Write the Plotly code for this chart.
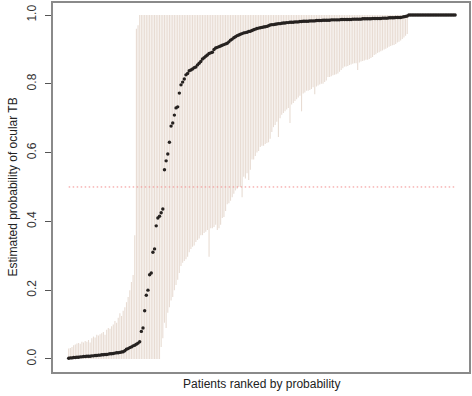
import plotly.graph_objects as go

# Estimated probability per patient (ranked)
estimate = [
    0.002, 0.003, 0.003, 0.004, 0.004, 0.005, 0.005, 0.006, 0.006, 0.007,
    0.007, 0.008, 0.008, 0.008, 0.009, 0.009, 0.010, 0.010, 0.011, 0.011,
    0.012, 0.012, 0.013, 0.013, 0.014, 0.015, 0.015, 0.016, 0.017, 0.018,
    0.018, 0.019, 0.020, 0.021, 0.024, 0.028, 0.030, 0.033, 0.035, 0.038,
    0.040, 0.043, 0.046,
    0.050, 0.080, 0.090, 0.140, 0.185, 0.200, 0.245, 0.250, 0.310, 0.320,
    0.387, 0.410, 0.415, 0.425, 0.436, 0.550, 0.576, 0.596, 0.630, 0.677,
    0.686, 0.709, 0.730, 0.733, 0.773, 0.797, 0.805, 0.814, 0.826,
    0.830, 0.838, 0.840, 0.843, 0.847, 0.849, 0.855, 0.860, 0.865, 0.872,
    0.876, 0.880, 0.884, 0.888, 0.890, 0.892, 0.900, 0.904, 0.906, 0.908,
    0.910, 0.912, 0.914, 0.916, 0.918, 0.922, 0.927, 0.930, 0.934, 0.937,
    0.940, 0.942, 0.944, 0.946, 0.948, 0.949, 0.950, 0.952, 0.953,
    0.955, 0.957, 0.959, 0.961, 0.962, 0.963, 0.964, 0.965, 0.966, 0.967,
    0.969, 0.971, 0.972, 0.972, 0.973, 0.974, 0.975, 0.975, 0.976, 0.977,
    0.977, 0.978, 0.978, 0.979, 0.979, 0.979, 0.980, 0.980, 0.980, 0.981,
    0.981, 0.982, 0.982, 0.982, 0.982, 0.983, 0.983, 0.983, 0.983, 0.984,
    0.984, 0.984,
    0.984, 0.985, 0.985, 0.985, 0.985, 0.985, 0.986, 0.986, 0.986, 0.986,
    0.986, 0.986, 0.987, 0.987, 0.987, 0.987, 0.987, 0.987, 0.987,
    0.988, 0.988, 0.988, 0.988, 0.988, 0.988, 0.989, 0.989, 0.989, 0.989,
    0.989, 0.989, 0.990, 0.990, 0.990, 0.990, 0.990, 0.990,
    0.991, 0.991, 0.991, 0.991, 0.992, 0.992, 0.992, 0.992, 0.993, 0.993,
    0.993, 0.993, 0.994, 0.995, 0.996, 0.997,
    1.000, 1.000, 1.000, 1.000, 1.000, 1.000, 1.000, 1.000, 1.000, 1.000,
    1.000, 1.000, 1.000, 1.000, 1.000, 1.000, 1.000, 1.000, 1.000, 1.000,
    1.000, 1.000, 1.000, 1.000, 1.000, 1.000, 1.000, 1.000, 1.000,
]

# Lower bound of interval
lower = [
    0.000, 0.000, 0.000, 0.000, 0.000, 0.000, 0.000, 0.000, 0.000, 0.000,
    0.000, 0.000, 0.000, 0.000, 0.000, 0.000, 0.000, 0.000, 0.000, 0.000,
    0.000, 0.000, 0.000, 0.000, 0.000, 0.000, 0.000, 0.000, 0.000, 0.000,
    0.000, 0.000, 0.000, 0.000, 0.000, 0.000, 0.000, 0.000, 0.000, 0.000,
    0.000, 0.000, 0.000, 0.000, 0.000, 0.000, 0.000, 0.000, 0.000, 0.000,
    0.000, 0.000, 0.000, 0.000, 0.000, 0.000,
    0.035, 0.060, 0.105, 0.090, 0.134, 0.150, 0.170, 0.180, 0.200, 0.215,
    0.230, 0.250, 0.270, 0.280, 0.285, 0.290,
    0.297, 0.310, 0.320, 0.326, 0.330, 0.340, 0.346, 0.350, 0.360, 0.360,
    0.366, 0.370, 0.375, 0.297, 0.380, 0.380, 0.384, 0.390, 0.375, 0.380,
    0.390, 0.410, 0.413, 0.430, 0.450, 0.453, 0.460, 0.470, 0.480, 0.490,
    0.495, 0.500, 0.500, 0.470, 0.530, 0.525, 0.540, 0.520, 0.550,
    0.580, 0.580, 0.590, 0.600, 0.605, 0.616, 0.620, 0.620, 0.625, 0.628,
    0.630, 0.640, 0.660, 0.674, 0.680, 0.690, 0.645, 0.700, 0.710, 0.715,
    0.720, 0.725, 0.730, 0.686, 0.740, 0.744, 0.750, 0.755, 0.760, 0.765,
    0.720, 0.772, 0.775, 0.780, 0.780, 0.782, 0.785, 0.790, 0.770, 0.792,
    0.795, 0.798, 0.800, 0.800, 0.805, 0.810, 0.820, 0.820, 0.822, 0.825,
    0.826, 0.828, 0.830, 0.835, 0.840, 0.845, 0.850, 0.850, 0.852, 0.855,
    0.856,
    0.858, 0.860, 0.860, 0.840, 0.862, 0.865, 0.866, 0.868, 0.870, 0.870,
    0.872, 0.875, 0.878, 0.884, 0.886, 0.890, 0.892, 0.895, 0.897, 0.900,
    0.902, 0.905, 0.908, 0.910, 0.912, 0.913, 0.916, 0.920, 0.922, 0.926,
    0.930, 0.935, 0.940, 0.945,
    1.000, 1.000, 1.000, 1.000, 1.000, 1.000, 1.000, 1.000, 1.000, 1.000,
    1.000, 1.000, 1.000, 1.000, 1.000, 1.000, 1.000, 1.000, 1.000, 1.000,
    1.000, 1.000, 1.000, 1.000, 1.000, 1.000, 1.000, 1.000, 1.000,
]

# Upper bound of interval
upper = [
    0.030, 0.032, 0.035, 0.040, 0.042, 0.045, 0.046, 0.044, 0.050, 0.048,
    0.052, 0.050, 0.055, 0.048, 0.060, 0.065, 0.062, 0.070, 0.068, 0.072,
    0.075, 0.078, 0.070, 0.085, 0.090, 0.088, 0.095, 0.100, 0.110, 0.105,
    0.120, 0.133, 0.125, 0.140, 0.150, 0.165, 0.180, 0.200, 0.224, 0.244,
    0.360, 0.960, 0.970,
    1.000, 1.000, 1.000, 1.000, 1.000, 1.000, 1.000, 1.000, 1.000, 1.000, 1.000, 1.000, 1.000, 1.000, 1.000, 1.000,
    1.000, 1.000, 1.000, 1.000, 1.000, 1.000, 1.000, 1.000, 1.000, 1.000, 1.000, 1.000, 1.000, 1.000, 1.000, 1.000,
    1.000, 1.000, 1.000, 1.000, 1.000, 1.000, 1.000, 1.000, 1.000, 1.000, 1.000, 1.000, 1.000, 1.000, 1.000, 1.000,
    1.000, 1.000, 1.000, 1.000, 1.000, 1.000, 1.000, 1.000, 1.000, 1.000, 1.000, 1.000, 1.000, 1.000, 1.000, 1.000,
    1.000, 1.000, 1.000, 1.000, 1.000, 1.000, 1.000, 1.000, 1.000, 1.000, 1.000, 1.000, 1.000, 1.000, 1.000, 1.000,
    1.000, 1.000, 1.000, 1.000, 1.000, 1.000, 1.000, 1.000, 1.000, 1.000, 1.000, 1.000, 1.000, 1.000, 1.000, 1.000,
    1.000, 1.000, 1.000, 1.000, 1.000, 1.000, 1.000, 1.000, 1.000, 1.000, 1.000, 1.000, 1.000, 1.000, 1.000, 1.000,
    1.000, 1.000, 1.000, 1.000, 1.000, 1.000, 1.000, 1.000, 1.000, 1.000, 1.000, 1.000, 1.000, 1.000, 1.000, 1.000,
    1.000, 1.000, 1.000, 1.000, 1.000, 1.000, 1.000, 1.000, 1.000, 1.000, 1.000, 1.000, 1.000, 1.000, 1.000, 1.000,
    1.000, 1.000, 1.000, 1.000, 1.000, 1.000, 1.000, 1.000, 1.000, 1.000, 1.000, 1.000, 1.000, 1.000, 1.000, 1.000,
    1.000, 1.000, 1.000, 1.000, 1.000, 1.000, 1.000, 1.000, 1.000, 1.000, 1.000, 1.000, 1.000, 1.000, 1.000, 1.000,
    1.000, 1.000, 1.000, 1.000, 1.000, 1.000, 1.000, 1.000, 1.000, 1.000, 1.000, 1.000, 1.000, 1.000, 1.000, 1.000,
]

threshold = 0.5
y_tick_values = [0.0, 0.2, 0.4, 0.6, 0.8, 1.0]
y_tick_labels = ["0.0", "0.2", "0.4", "0.6", "0.8", "1.0"]
x_title = "Patients ranked by probability"
y_title = "Estimated probability of ocular TB"

n = min(len(estimate), len(lower), len(upper))
rank = list(range(1, n + 1))

seg_x, seg_y = [], []
for i in range(n):
    seg_x += [rank[i], rank[i], None]
    seg_y += [lower[i], upper[i], None]

FONT = "Liberation Sans, Arial, Helvetica, sans-serif"

fig = go.Figure()
fig.add_trace(go.Scatter(
    x=seg_x, y=seg_y, mode="lines",
    line=dict(color="rgb(232,220,211)", width=1.1),
    hoverinfo="skip", showlegend=False,
))
fig.add_trace(go.Scatter(
    x=[rank[0], rank[-1]], y=[threshold, threshold], mode="lines",
    line=dict(color="rgb(242,140,140)", width=1, dash="1.5px,2.5px"),
    showlegend=False,
))
fig.add_trace(go.Scatter(
    x=rank, y=estimate[:n], mode="markers",
    marker=dict(color="#262220", size=3.4, line=dict(width=0)),
    showlegend=False,
))

fig.update_layout(
    width=472, height=396,
    margin=dict(l=53, r=3, t=3, b=24, autoexpand=False),
    paper_bgcolor="white", plot_bgcolor="white",
    font=dict(family=FONT, size=12, color="#333333"),
    xaxis=dict(
        range=[-8.5, 243.4], showticklabels=False, ticks="",
        showgrid=False, zeroline=False, automargin=False,
        showline=True, mirror=True, linecolor="#8a8a8a", linewidth=2,
    ),
    yaxis=dict(
        range=[-0.038, 1.035], tickvals=y_tick_values, ticktext=y_tick_labels,
        ticks="outside", ticklen=6, tickwidth=1, tickcolor="#555555",
        tickangle=-90, tickfont=dict(size=12, color="#333333"),
        ticklabelstandoff=4,
        showgrid=False, zeroline=False, automargin=False,
        showline=True, mirror=True, linecolor="#8a8a8a", linewidth=2,
    ),
    annotations=[
        dict(text=x_title, xref="paper", yref="paper", x=0.5, y=0,
             xanchor="center", yanchor="middle", yshift=-12, showarrow=False,
             font=dict(size=12, color="#222222")),
        dict(text=y_title, xref="paper", yref="paper", x=0, y=0.5,
             xanchor="center", yanchor="middle", xshift=-41, textangle=-90,
             showarrow=False, font=dict(size=12, color="#222222")),
    ],
)

fig.write_html(
    "out.html",
    config={"displayModeBar": False},
    post_script="document.body.style.margin='0';document.body.style.overflow='hidden';",
)
